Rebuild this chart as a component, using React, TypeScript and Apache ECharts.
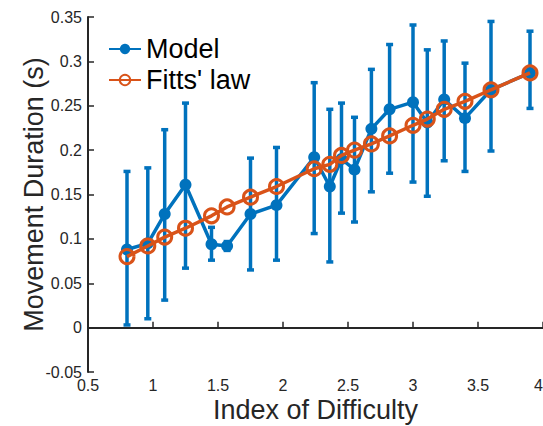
import React, { useEffect, useRef } from "react";
import * as echarts from "echarts";

// Index of Difficulty for each condition
const ids = [0.8, 0.96, 1.09, 1.25, 1.45, 1.57, 1.75, 1.95, 2.24, 2.36, 2.45, 2.55, 2.68, 2.82, 3.0, 3.11, 3.24, 3.4, 3.6, 3.9];
// Model mean movement duration (s)
const modelMean = [0.088, 0.095, 0.128, 0.161, 0.094, 0.092, 0.128, 0.138, 0.192, 0.159, 0.19, 0.178, 0.224, 0.246, 0.254, 0.231, 0.257, 0.236, 0.268, 0.287];
// Model error bar lower / upper bounds (s)
const modelLow = [0.003, 0.01, 0.031, 0.067, 0.076, 0.087, 0.065, 0.076, 0.106, 0.074, 0.129, 0.119, 0.153, 0.174, 0.164, 0.148, 0.188, 0.176, 0.199, 0.247];
const modelHigh = [0.176, 0.18, 0.223, 0.253, 0.113, 0.097, 0.191, 0.203, 0.276, 0.246, 0.253, 0.237, 0.291, 0.319, 0.341, 0.313, 0.323, 0.298, 0.345, 0.334];
// Fitts' law prediction (s)
const fitts = [0.08, 0.092, 0.102, 0.112, 0.126, 0.136, 0.147, 0.159, 0.179, 0.184, 0.194, 0.2, 0.207, 0.216, 0.228, 0.235, 0.246, 0.255, 0.268, 0.287];

const yTicks = { min: -0.05, max: 0.35, interval: 0.05 };
const xTicks = { min: 0.5, max: 4, interval: 0.5 };

const BLUE = "#0072BD";
const ORANGE = "#D95319";
const AXIS = "#262626";
const FONT = "'Liberation Sans', Arial, Helvetica, sans-serif";

export default function App() {
  const ref = useRef<HTMLDivElement>(null);
  useEffect(() => {
    if (!ref.current) return;
    const chart = echarts.init(ref.current, undefined, { renderer: "svg" });
    const errData = ids.map((x, i) => [x, modelLow[i], modelHigh[i]]);
    chart.setOption({
      animation: false,
      backgroundColor: "#fff",
      textStyle: { fontFamily: FONT },
      grid: { left: 88, top: 17, right: 0, bottom: 54, containLabel: false, outerBoundsMode: "none" },
      legend: {
        orient: "vertical",
        left: 103,
        top: 29,
        itemWidth: 32,
        itemHeight: 13,
        itemGap: 1,
        data: ["Model", "Fitts' law"],
        textStyle: { fontSize: 27, lineHeight: 30, color: "#000", fontFamily: FONT },
      },
      xAxis: {
        type: "value",
        min: xTicks.min,
        max: xTicks.max,
        interval: xTicks.interval,
        name: "Index of Difficulty",
        nameLocation: "middle",
        nameGap: 24,
        nameMoveOverlap: false,
        nameTextStyle: { fontSize: 27, color: AXIS, fontFamily: FONT },
        axisLine: { show: true, lineStyle: { color: AXIS, width: 2 } },
        axisTick: { show: true, inside: true, length: 6, lineStyle: { color: AXIS, width: 1.5 } },
        axisLabel: {
          fontSize: 16,
          color: AXIS,
          margin: 5,
          showMaxLabel: true,
          showMinLabel: true,
          alignMaxLabel: "right",
          formatter: (v: number) => String(Math.round(v * 10) / 10),
        },
        splitLine: { show: false },
      },
      yAxis: {
        type: "value",
        min: yTicks.min,
        max: yTicks.max,
        interval: yTicks.interval,
        name: "Movement Duration (s)",
        nameLocation: "middle",
        nameGap: 41,
        nameMoveOverlap: false,
        nameTextStyle: { fontSize: 27, color: AXIS, fontFamily: FONT },
        axisLine: { show: true, lineStyle: { color: AXIS, width: 2 } },
        axisTick: { show: true, inside: true, length: 6, lineStyle: { color: AXIS, width: 1.5 } },
        axisLabel: {
          fontSize: 16,
          color: AXIS,
          margin: 6,
          showMaxLabel: true,
          showMinLabel: true,
          formatter: (v: number) => String(Math.round(v * 100) / 100),
        },
        splitLine: { show: false },
      },
      series: [
        {
          name: "errors",
          type: "custom",
          z: 1,
          encode: { x: 0, y: [1, 2] },
          data: errData,
          renderItem: (params: any, api: any) => {
            const x = api.value(0);
            const lo = api.value(1);
            const hi = api.value(2);
            const pHi = api.coord([x, hi]);
            const pLo = api.coord([x, lo]);
            const w = 3.5;
            const style = { stroke: BLUE, lineWidth: 3.5 };
            return {
              type: "group",
              children: [
                { type: "line", shape: { x1: pHi[0], y1: pHi[1], x2: pLo[0], y2: pLo[1] }, style },
                { type: "line", shape: { x1: pHi[0] - w, y1: pHi[1], x2: pHi[0] + w, y2: pHi[1] }, style },
                { type: "line", shape: { x1: pLo[0] - w, y1: pLo[1], x2: pLo[0] + w, y2: pLo[1] }, style },
              ],
            };
          },
        },
        {
          name: "Model",
          type: "line",
          z: 2,
          data: ids.map((x, i) => [x, modelMean[i]]),
          symbol: "circle",
          symbolSize: 12,
          itemStyle: { color: BLUE },
          lineStyle: { color: BLUE, width: 3.5 },
        },
        {
          name: "Fitts' law",
          type: "line",
          z: 3,
          data: ids.map((x, i) => [x, fitts[i]]),
          symbol: "circle",
          symbolSize: 14,
          itemStyle: { color: "rgba(255,255,255,0)", borderColor: ORANGE, borderWidth: 3 },
          lineStyle: { color: ORANGE, width: 3.5 },
        },
      ],
    });
    return () => chart.dispose();
  }, []);
  return (
    <div
      ref={ref}
      style={{ position: "absolute", left: 0, top: 0, width: 543, height: 426 }}
    />
  );
}
